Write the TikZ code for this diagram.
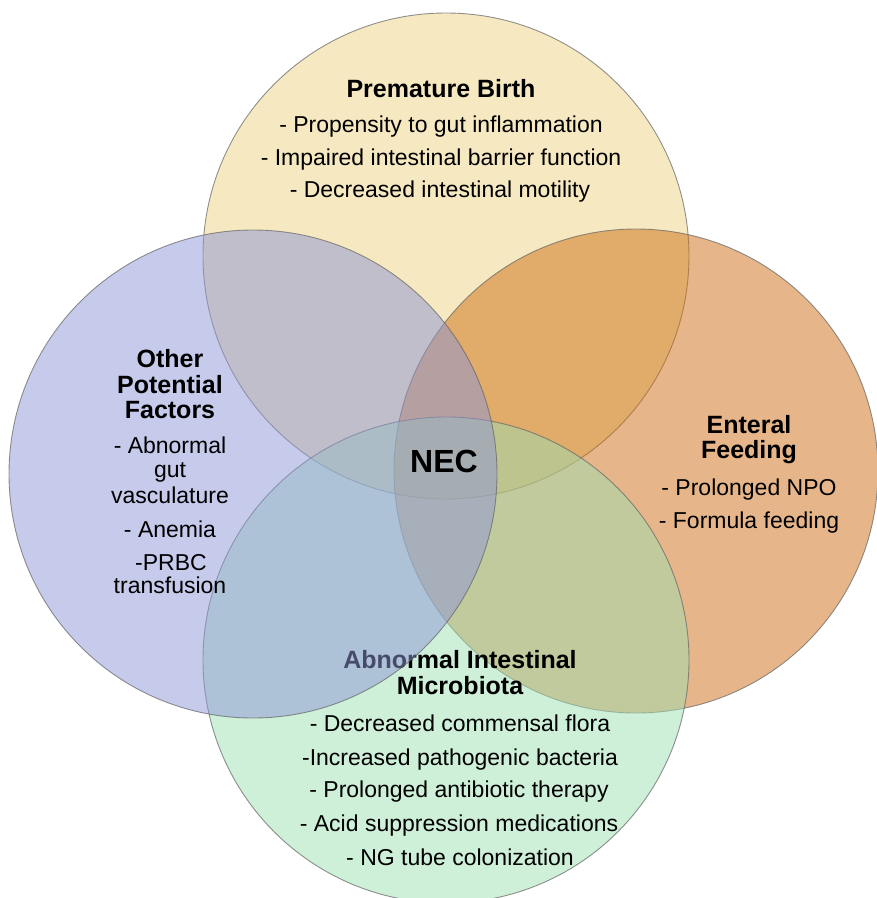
\documentclass[tikz,border=0pt]{standalone}
\usepackage{fontspec}
\setmainfont{Liberation Sans}
% fill colours, used at half opacity
\definecolor{cYellow}{RGB}{237,211,131}
\definecolor{cBlue}{RGB}{141,149,215}
\definecolor{cOrange}{RGB}{205,109,21}
\definecolor{cGreen}{RGB}{157,223,177}
\definecolor{cEdge}{RGB}{100,100,100}
\begin{document}
\begin{tikzpicture}[x=1pt,y=-1pt,
  venn/.style={draw=cEdge, line width=0.9pt, fill opacity=0.5, draw opacity=0.7},
  heading/.style={anchor=base, inner sep=0pt, font=\fontsize{25}{30}\selectfont\bfseries},
  item/.style={anchor=base, inner sep=0pt, font=\fontsize{23}{28}\selectfont},
  centre/.style={anchor=base, inner sep=0pt, font=\fontsize{32}{38}\selectfont\bfseries},
]
\useasboundingbox (0,0) rectangle (877,898);

% circle centres
\coordinate (cTop) at (446,256);
\coordinate (cLeft) at (253,474);
\coordinate (cRight) at (636,471);
\coordinate (cBottom) at (446,660);

% circles, drawn in stacking order
\filldraw[venn, fill=cYellow] (cTop) circle[radius=243pt];
\filldraw[venn, fill=cOrange] (cRight) circle[radius=242pt];
\filldraw[venn, fill=cGreen] (cBottom) circle[radius=243pt];

% heading of the lower circle sits beneath the left circle
\node[heading] (mbT1) at (460,668) {Abnormal Intestinal};
\node[heading] (mbT2) at (460,694) {Microbiota};

\filldraw[venn, fill=cBlue] (cLeft) circle[radius=244pt];

% Premature Birth
\node[heading] (pbT) at (441,97) {Premature Birth};
\node[item] (pb1) at (441,132) {- Propensity to gut inflammation};
\node[item] (pb2) at (441,165) {- Impaired intestinal barrier function};
\node[item] (pb3) at (440,197) {- Decreased intestinal motility};

% Other Potential Factors
\node[heading] (opT1) at (170,367) {Other};
\node[heading] (opT2) at (170,393) {Potential};
\node[heading] (opT3) at (170,418) {Factors};
\node[item] (op1) at (170,453) {- Abnormal};
\node[item] (op2) at (170,477) {gut};
\node[item] (op3) at (170,503) {vasculature};
\node[item] (op4) at (170,537) {- Anemia};
\node[item] (op5) at (171,570) {-PRBC};
\node[item] (op6) at (170,593) {transfusion};

% Enteral Feeding
\node[heading] (efT1) at (749,433) {Enteral};
\node[heading] (efT2) at (749,458) {Feeding};
\node[item] (ef1) at (749,495) {- Prolonged NPO};
\node[item] (ef2) at (749,528) {- Formula feeding};

% Abnormal Intestinal Microbiota items
\node[item] (mb1) at (460,731) {- Decreased commensal flora};
\node[item] (mb2) at (460,765) {-Increased pathogenic bacteria};
\node[item] (mb3) at (459,797) {- Prolonged antibiotic therapy};
\node[item] (mb4) at (459,831) {- Acid suppression medications};
\node[item] (mb5) at (460,865) {- NG tube colonization};

% centre
\node[centre] (nec) at (444,472) {NEC};
\end{tikzpicture}
\end{document}
